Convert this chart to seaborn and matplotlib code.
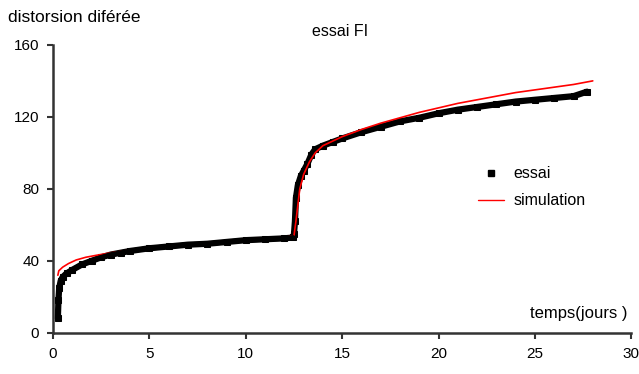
import matplotlib

matplotlib.use("Agg")
import matplotlib.pyplot as plt
import seaborn as sns
from matplotlib.lines import Line2D

essai_t = [0.25, 0.28, 0.32, 0.4, 0.5, 0.7, 1.0, 1.5, 2.0, 2.5, 3.0, 3.5, 4.0, 5.0, 6.0,
           7.0, 8.0, 9.0, 10.0, 11.0, 12.0, 12.45, 12.5, 12.55, 12.6, 12.7, 12.85, 13.0,
           13.2, 13.4, 13.6, 14.0, 14.5, 15.0, 16.0, 17.0, 18.0, 19.0, 20.0, 21.0, 22.0,
           23.0, 24.0, 25.0, 26.0, 27.0, 27.7]
essai_v = [8, 18, 25, 29, 31, 33, 35, 38, 40, 42, 43.5, 44.5, 45.5, 47, 48,
           49, 49.5, 50.5, 51.5, 52, 52.5, 53, 55, 62, 75, 82, 87, 90,
           94, 99, 102, 104, 106, 108, 111.5, 114.5, 117.5, 119.5, 122, 124, 125.5,
           127, 128.5, 129.5, 130.5, 131.5, 134]

# simulation
sim_t = [0.25, 0.3, 0.5, 0.8, 1.2, 1.7, 2.2, 3.0, 4.0, 5.0, 6.0, 7.0, 8.0, 9.0, 10.0,
         11.0, 12.0, 12.5, 12.6, 12.8, 13.0, 13.3, 13.6, 14.0, 15.0, 16.0, 17.0, 18.0,
         19.0, 20.0, 21.0, 22.0, 23.0, 24.0, 25.0, 26.0, 27.0, 28.0]
sim_v = [32, 34.5, 36.5, 38.5, 40.5, 42, 43, 44.5, 46, 47, 48, 49, 50, 51, 52,
         52.5, 53, 54, 62, 80, 88, 95, 100, 104, 109, 113, 116.5, 119.5,
         122.5, 125, 127.5, 129.5, 131.5, 133.5, 135, 136.5, 138, 140]

sns.set_style("white")
plt.rcParams["font.family"] = ["Liberation Sans", "DejaVu Sans"]
plt.rcParams["text.color"] = "black"
plt.rcParams["xtick.color"] = "black"
plt.rcParams["ytick.color"] = "black"

fig = plt.figure(figsize=(6.39, 3.74), dpi=100)
ax = fig.add_axes([0.083, 0.11, 0.905, 0.77])

sns.lineplot(x=essai_t, y=essai_v, ax=ax, color="black", linewidth=4.5,
             marker="s", markersize=4, markeredgecolor="black", sort=False)
sns.lineplot(x=sim_t, y=sim_v, ax=ax, color="red", linewidth=1.2, sort=False)
# essai over the red curve where the two overlap in the first phase
sns.lineplot(x=essai_t[3:22], y=essai_v[3:22], ax=ax, color="black", linewidth=3.5, sort=False)

ax.set_xlim(0, 30)
ax.set_ylim(0, 160)
ax.set_xticks([0, 5, 10, 15, 20, 25, 30])
ax.set_yticks([0, 40, 80, 120, 160])
ax.tick_params(axis="both", direction="out", length=4, width=1.5, color="#333333",
               labelsize=11, pad=6, bottom=True, left=True)
for side in ["top", "right"]:
    ax.spines[side].set_visible(False)
for side in ["left", "bottom"]:
    ax.spines[side].set_color("#333333")
    ax.spines[side].set_linewidth(1.8)

fig.text(0.013, 0.94, "distorsion diférée", fontsize=12.5)
fig.text(0.532, 0.905, "essai FI", fontsize=11.5, ha="center")
ax.text(29.8, 8, "temps(jours )", fontsize=12, ha="right")

handles = [
    Line2D([], [], color="black", marker="s", markersize=4, linestyle="none"),
    Line2D([], [], color="red", linewidth=1),
]
ax.legend(handles, ["essai", "simulation"], loc="upper left",
          bbox_to_anchor=(0.735, 0.578), frameon=False, fontsize=11.5,
          handlelength=1.6, handletextpad=0.6, labelspacing=0.75,
          borderpad=0, borderaxespad=0)

fig.savefig("out.png", dpi=100)
